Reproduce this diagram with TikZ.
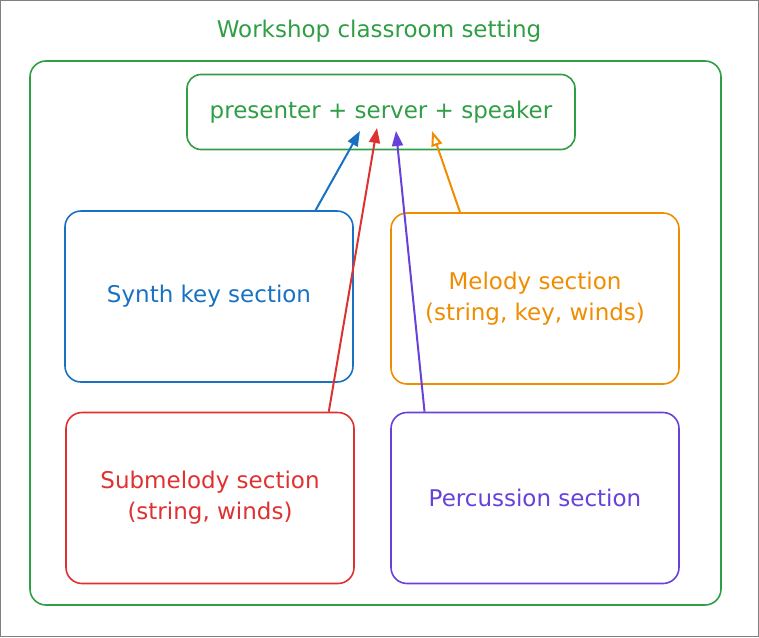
\documentclass[tikz,border=0pt]{standalone}
\usepackage{fontspec}
\setmainfont{DejaVu Sans}
\usepackage{xcolor}
\usetikzlibrary{arrows.meta}

\definecolor{roomgreen}{HTML}{2F9E44}
\definecolor{synthblue}{HTML}{1971C2}
\definecolor{melodyorange}{HTML}{F08C00}
\definecolor{subred}{HTML}{E03131}
\definecolor{percviolet}{HTML}{6741D9}

\tikzset{
	section/.style={draw, line width=1.6pt, rounded corners=16pt, inner sep=0pt,
		minimum width=288pt, minimum height=171pt, align=center,
		font=\fontsize{23}{31}\selectfont},
	link/.style={line width=2pt, -{Triangle[length=15pt,width=11pt]}}
}

\begin{document}
\begin{tikzpicture}[x=1pt,y=-1pt]
		\useasboundingbox (0,0) rectangle (759,637);
		\draw[gray, line width=1pt] (0.5,0.5) rectangle (758.5,636.5);
		%
		\node[roomgreen, font=\fontsize{23}{26}\selectfont] (title) at (379,31) {Workshop classroom setting};
		\node[draw=roomgreen, line width=1.6pt, rounded corners=16pt, minimum width=691pt, minimum height=544pt] (room) at (375.5,333) {};
		\node[draw=roomgreen, roomgreen, line width=1.6pt, rounded corners=14pt, minimum width=388pt, minimum height=75pt, font=\fontsize{23}{26}\selectfont] (hub) at (381,112) {presenter + server + speaker};
		%
		\node[section, synthblue] (synth) at (209,296.5) {Synth key section};
		\node[section, melodyorange] (melody) at (535,298.5) {Melody section\\(string, key, winds)};
		\node[section, subred] (submelody) at (210,498) {Submelody section\\(string, winds)};
		\node[section, percviolet] (perc) at (535,498) {Percussion section};
		%
		% arrow ends inside the hub
		\coordinate (hub-synth) at (360,131);
		\coordinate (hub-sub) at (377,128);
		\coordinate (hub-perc) at (396,131);
		\coordinate (hub-melody) at (432,131);
		%
		\path
		(synth.39) edge[link, synthblue] (hub-synth)
		(submelody.36) edge[link, subred] (hub-sub)
		(perc.142) edge[link, percviolet] (hub-perc)
		(melody.131) edge[link, melodyorange, -{Triangle[open,length=15pt,width=11pt]}] (hub-melody);
	\end{tikzpicture}
\end{document}
